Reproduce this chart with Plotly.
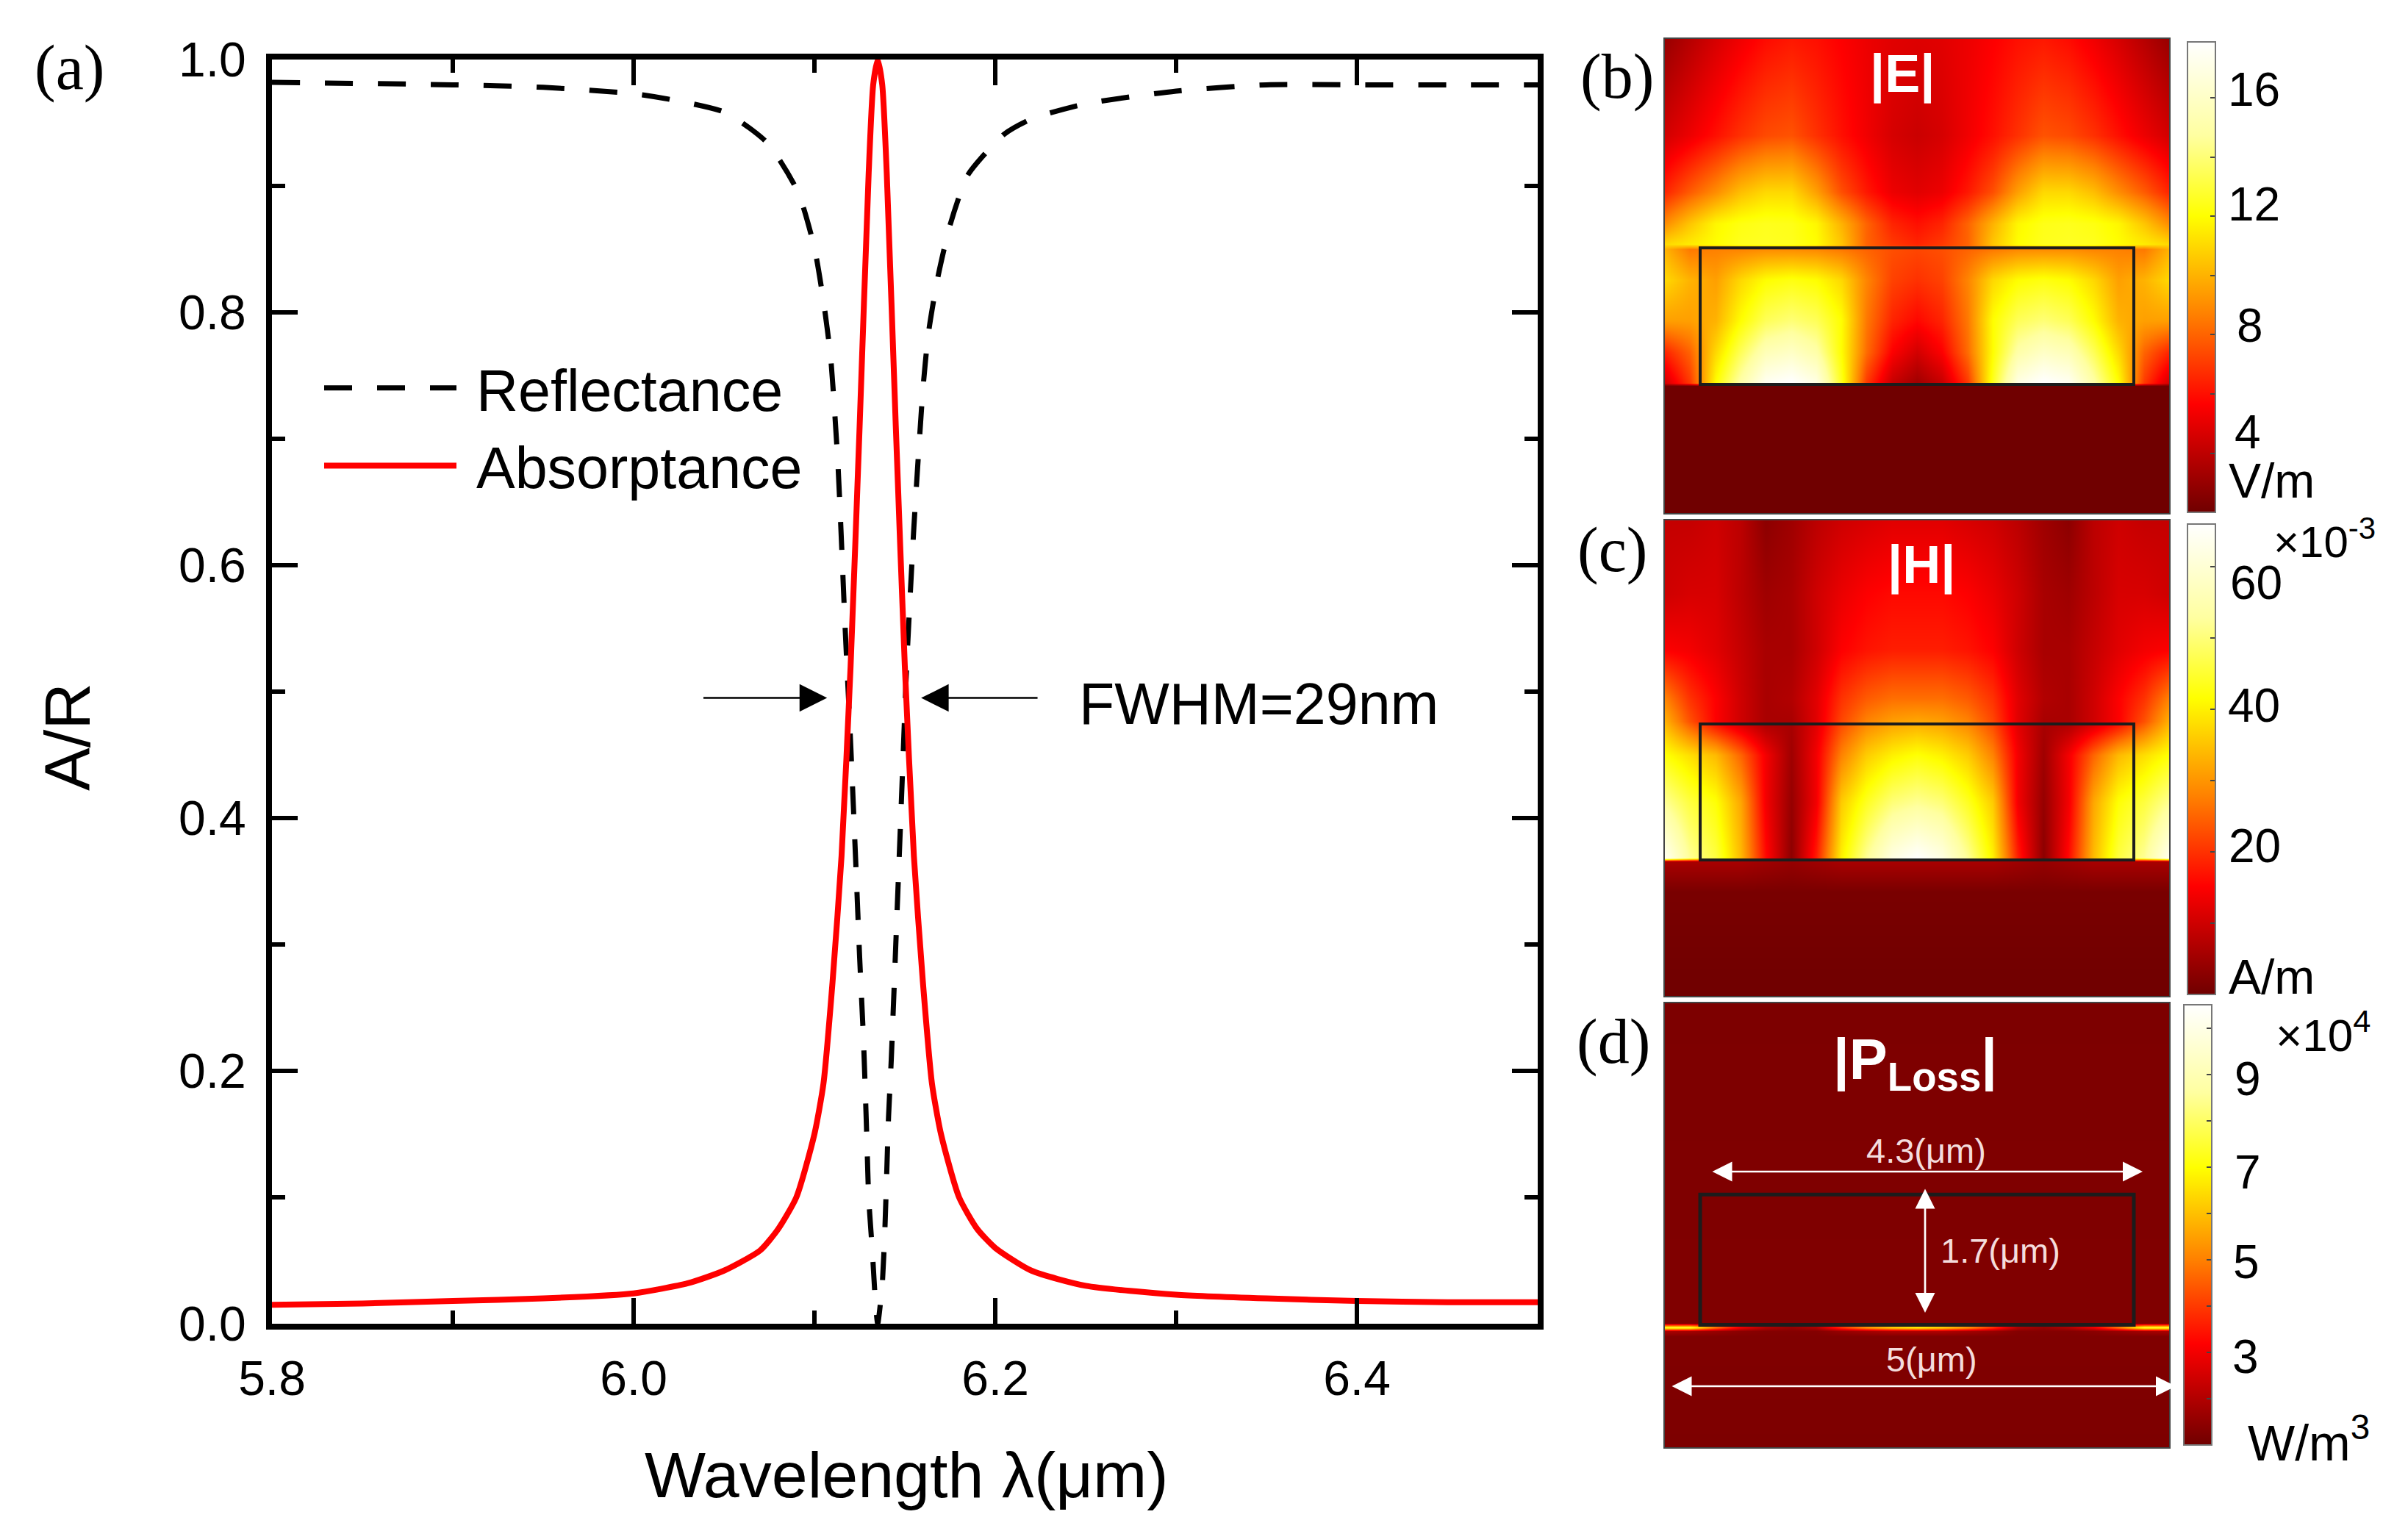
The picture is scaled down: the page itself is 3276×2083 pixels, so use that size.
"""Absorber spectrum with |E|, |H| and |P_loss| field maps"""

import plotly.graph_objects as go

W, H = 3276, 2083
FONT = "Liberation Sans"
SERIF = "Liberation Serif"

# spectrum
wl_refl = [5.80, 5.90, 5.95, 6.00, 6.022, 6.051, 6.074, 6.091, 6.10, 6.105, 6.109, 6.113,
           6.117, 6.12, 6.123, 6.125, 6.127, 6.128, 6.129, 6.13, 6.132, 6.134, 6.135,
           6.1375, 6.139, 6.14, 6.141, 6.1425, 6.145, 6.148, 6.151, 6.155, 6.16, 6.163,
           6.168, 6.175, 6.185, 6.205, 6.22, 6.25, 6.30, 6.35, 6.40, 6.45, 6.50]
reflectance = [0.982, 0.98, 0.978, 0.973, 0.968, 0.958, 0.934, 0.895, 0.851, 0.809, 0.764, 0.68,
               0.55, 0.46, 0.36, 0.29, 0.229, 0.19, 0.146, 0.10, 0.058, 0.012, 0.0,
               0.031, 0.076, 0.12, 0.164, 0.209, 0.30, 0.41, 0.52, 0.63, 0.739, 0.783,
               0.826, 0.869, 0.909, 0.941, 0.953, 0.965, 0.975, 0.98, 0.98, 0.98, 0.98]
wl_abs = [5.80, 5.85, 5.90, 5.95, 6.00, 6.03, 6.05, 6.07, 6.08, 6.09, 6.10, 6.105, 6.11, 6.115,
          6.12, 6.125, 6.13, 6.1325, 6.135, 6.1375, 6.14, 6.145, 6.15, 6.155, 6.16, 6.165, 6.17,
          6.18, 6.19, 6.20, 6.22, 6.25, 6.30, 6.35, 6.40, 6.45, 6.50]
absorptance = [0.015, 0.016, 0.018, 0.020, 0.024, 0.032, 0.042, 0.058, 0.075, 0.10, 0.15, 0.19, 0.27, 0.37,
               0.52, 0.71, 0.91, 0.98, 1.0, 0.98, 0.91, 0.71, 0.52, 0.37, 0.27, 0.19, 0.15,
               0.10, 0.075, 0.06, 0.042, 0.03, 0.023, 0.02, 0.018, 0.017, 0.017]

# field maps: left half of each row (0 to 2.5 um), the structure is symmetric
x_cols = [0, 0.25, 0.5, 0.75, 1, 1.25, 1.5, 1.75, 2, 2.25, 2.5,
          2.75, 3, 3.25, 3.5, 3.75, 4, 4.25, 4.5, 4.75, 5]

e_rows_y = [0, 1.585, 1.62, 2.0, 2.4, 2.9, 3.28, 3.35, 3.6, 4.0, 4.7, 5.9]
e_half = [
    [2, 2, 2, 2, 2, 2, 2, 2, 2, 2, 2],
    [2, 2, 2, 2, 2, 2, 2, 2, 2, 2, 2],
    [4.5, 7, 12, 15, 17.5, 18, 17, 12.5, 7, 4.2, 3.2],
    [6.5, 8, 11, 13.5, 15.5, 16, 15, 12, 8.2, 5.6, 4.5],
    [9.5, 9.5, 10, 12, 13.5, 14, 13.5, 12, 8.5, 6.5, 5.8],
    [11, 10, 9.5, 11, 12, 12.3, 12, 11, 8.8, 7.2, 6.8],
    [10, 8.5, 8.7, 8.8, 9, 9, 8.9, 8.5, 8, 7.5, 7.3],
    [11, 11.5, 12, 12.5, 12.6, 12.5, 12, 10.5, 8, 7, 6.5],
    [9, 10.5, 11.8, 12.3, 12.5, 12.4, 11.8, 10, 8, 6.5, 6],
    [6.5, 7.8, 9, 10.3, 11, 11, 9.5, 7.5, 6.2, 5.2, 4.9],
    [4.5, 5.2, 6, 6.8, 7.4, 7.6, 6.8, 6, 5.3, 4.6, 4.3],
    [3, 3.8, 4.6, 5.3, 5.9, 6.2, 6, 5.6, 5.2, 4.9, 4.8],
]

h_rows_y = [0, 1.3, 1.67, 1.72, 2.4, 3.0, 3.42, 3.7, 4.3, 5.0, 5.91]
h_half = [
    [0, 0, 0, 0, 0, 0, 0, 0, 0, 0, 0],
    [1, 1, 1, 1, 1, 1, 1, 1, 1, 1, 1],
    [6, 6, 6, 6, 5, 4, 5, 6, 6, 6, 6],
    [64, 52, 46, 34, 16, 3, 18, 40, 52, 62, 66],
    [52, 46, 42, 32, 14, 4, 14, 36, 44, 50, 52],
    [42, 38, 34, 25, 14, 5, 14, 28, 36, 40, 42],
    [33, 23, 15, 10, 6, 6, 12, 22, 28, 31, 32],
    [28, 20, 15, 10, 6, 7, 12, 20, 24, 26, 26],
    [15, 14, 12, 9, 6, 6, 10, 15, 17, 18, 18],
    [10, 11, 11, 8, 5, 6, 10, 13, 15, 16, 16],
    [9, 9, 10, 8, 3, 5, 8, 10, 11, 12, 12],
]

p_rows_y = [0, 1.45, 1.52, 1.57, 1.62, 5.8]
p_half = [
    [1.2, 1.2, 1.2, 1.2, 1.2, 1.2, 1.2, 1.2, 1.2, 1.2, 1.2],
    [1.25, 1.25, 1.25, 1.25, 1.25, 1.25, 1.25, 1.25, 1.25, 1.25, 1.25],
    [1.9, 1.8, 1.6, 1.4, 1.3, 1.3, 1.3, 1.6, 1.8, 2.0, 2.0],
    [7.5, 7.5, 5, 3, 2, 1.6, 2, 4, 5.5, 6.5, 7],
    [1.25, 1.25, 1.25, 1.25, 1.25, 1.25, 1.25, 1.25, 1.25, 1.25, 1.25],
    [1.2, 1.2, 1.2, 1.2, 1.2, 1.2, 1.2, 1.2, 1.2, 1.2, 1.2],
]

e_ticks = [2, 4, 6, 8, 10, 12, 14, 16]
h_ticks = [10, 20, 30, 40, 50, 60]
p_ticks = [2, 3, 4, 5, 6, 7, 8, 9, 10]

# colour bar numbers, set by hand beside the bars in the original
e_labels = ["16", "12", "8", "4"]
h_labels = ["60", "40", "20"]
p_labels = ["9", "7", "5", "3"]

THERMAL = [[0, "#700000"], [0.23, "#ff0000"], [0.42, "#ff8000"],
           [0.63, "#ffff00"], [0.8, "#ffffa0"], [1, "#ffffff"]]


def fx(px):
    return px / W


def fy(py):
    return 1 - py / H


def mirror(rows):
    return [r + r[-2::-1] for r in rows]


def text(px, py, s, size, color="black", family=FONT, **kw):
    return dict(x=fx(px), y=fy(py), xref="paper", yref="paper", text=s, showarrow=False,
                font=dict(family=family, size=size, color=color),
                xanchor="center", yanchor="middle", **kw)


fig = go.Figure()

fig.add_trace(go.Scatter(x=wl_refl, y=reflectance, mode="lines", name="\u00a0Reflectance",
                         line=dict(color="black", width=7, dash="38px,34px", shape="spline", smoothing=0.6)))
fig.add_trace(go.Scatter(x=wl_abs, y=absorptance, mode="lines", name="\u00a0Absorptance",
                         line=dict(color="#ff0000", width=8, shape="spline", smoothing=0.6)))

panels = [
    ("2", x_cols, e_rows_y, e_half, 2, 17.9, e_ticks, (2265, 2951, 53, 698), (57, 697), 2976),
    ("3", x_cols, h_rows_y, h_half, 0, 66, h_ticks, (2265, 2951, 708, 1355), (713, 1353), 2976),
    ("4", x_cols, p_rows_y, p_half, 1, 10.5, p_ticks, (2265, 2951, 1365, 1969), (1367, 1966), 2971),
]

for n, xs, ys, half, zmin, zmax, ticks, box, cb_y, cb_x in panels:
    fig.add_trace(go.Heatmap(
        x=xs, y=ys, z=mirror(half), xaxis="x" + n, yaxis="y" + n, zsmooth="best",
        colorscale=THERMAL, zmin=zmin, zmax=zmax,
        colorbar=dict(
            x=fx(cb_x), xanchor="left", xpad=0, ypad=0,
            y=fy(cb_y[1]), yanchor="bottom", len=(cb_y[1] - cb_y[0]) / H, lenmode="fraction",
            thickness=38, thicknessmode="pixels",
            tickmode="array", tickvals=ticks, showticklabels=False,
            ticks="inside", ticklen=8, tickwidth=2, tickcolor="#444",
            outlinecolor="#777", outlinewidth=2,
        ),
    ))
    fig.update_layout({
        "xaxis" + n: dict(domain=[fx(box[0]), fx(box[1])], range=[0, 5], anchor="y" + n,
                          showgrid=False, zeroline=False, showticklabels=False, ticks="",
                          showline=True, mirror=True, linecolor="#444", linewidth=2),
        "yaxis" + n: dict(domain=[fy(box[3]), fy(box[2])], range=[ys[0], ys[-1]], anchor="x" + n,
                          showgrid=False, zeroline=False, showticklabels=False, ticks="",
                          showline=True, mirror=True, linecolor="#444", linewidth=2),
    })

# the resonator outline in each map
for n, y0, y1, lw in [("2", 1.6, 3.3, 4), ("3", 1.69, 3.38, 4), ("4", 1.6, 3.3, 5)]:
    fig.add_shape(type="rect", xref="x" + n, yref="y" + n, x0=0.35, x1=4.65, y0=y0, y1=y1,
                  line=dict(color="#1c1c1c", width=lw))

annotations = [
    text(94, 92, "(a)", 86, family=SERIF),
    text(2200, 104, "(b)", 86, family=SERIF),
    text(2193, 748, "(c)", 86, family=SERIF),
    text(2195, 1417, "(d)", 86, family=SERIF),
    text(1233, 2006, "Wavelength λ(μm)", 88),
    text(92, 1003, "A/R", 88, textangle=-90),
    text(1712, 958, "FWHM=29nm", 79),
    text(2588, 100, "<b>|E|</b>", 72, color="white"),
    text(2614, 768, "<b>|H|</b>", 72, color="white"),
    text(2605, 1446, "<b>|P<sub>Loss</sub>|</b>", 78, color="white"),
    text(3090, 654, "V/m", 66),
    text(3090, 1329, "A/m", 66),
    text(3141, 1958, "W/m<sup>3</sup>", 68),
    text(3162, 733, "×10<sup>-3</sup>", 60),
    text(3160, 1404, "×10<sup>4</sup>", 62),
    text(2620, 1565, "4.3(μm)", 47, color="#f4dcdc"),
    text(2721, 1701, "1.7(μm)", 47, color="#f4dcdc"),
    text(2628, 1849, "5(μm)", 47, color="#f4dcdc"),
]

for label, lx, ly in zip(e_labels, [3066, 3066, 3061, 3058], [122, 278, 443, 588]):
    annotations.append(text(lx, ly, label, 64))
for label, lx, ly in zip(h_labels, [3069, 3066, 3067], [793, 960, 1151]):
    annotations.append(text(lx, ly, label, 64))
for label, lx, ly in zip(p_labels, [3058, 3058, 3056, 3055], [1468, 1595, 1717, 1846]):
    annotations.append(text(lx, ly, label, 64))

# FWHM pointers, in data units
for tail, head in [(6.038, 6.107), (6.224, 6.159)]:
    annotations.append(dict(x=head, y=0.495, ax=tail, ay=0.495, xref="x", yref="y", axref="x", ayref="y",
                            text="", showarrow=True, arrowhead=2, arrowsize=3, arrowwidth=2.5,
                            arrowcolor="black"))

# dimension arrows in panel (d), tail given as pixel offset
for x0, y0, x1, y1 in [(2328, 1594, 2915, 1594), (2619, 1616, 2619, 1786), (2273, 1886, 2960, 1886)]:
    annotations.append(dict(x=fx(x1), y=fy(y1), xref="paper", yref="paper", ax=x0 - x1, ay=y0 - y1,
                            text="", showarrow=True, arrowhead=2, arrowside="end+start",
                            arrowsize=2, arrowwidth=2.7, arrowcolor="white"))

fig.update_layout(
    width=W, height=H,
    margin=dict(l=0, r=0, t=0, b=0, autoexpand=False),
    paper_bgcolor="white", plot_bgcolor="white",
    font=dict(family=FONT, color="black"),
    xaxis=dict(domain=[fx(370), fx(2092)], range=[5.8, 6.5], anchor="y",
               tickmode="array", tickvals=[5.8, 6.0, 6.2, 6.4], ticktext=["5.8", "6.0", "6.2", "6.4"],
               ticks="inside", ticklen=35, tickwidth=6, tickcolor="black",
               minor=dict(ticks="inside", dtick=0.1, ticklen=18, tickwidth=6, tickcolor="black"),
               showgrid=False, zeroline=False, showline=True, mirror="ticks", ticklabelstandoff=10,
               linecolor="black", linewidth=8, tickfont=dict(family=FONT, size=66)),
    yaxis=dict(domain=[fy(1801), fy(81)], range=[0, 1], anchor="x",
               tickmode="array", tickvals=[0, 0.2, 0.4, 0.6, 0.8, 1.0],
               ticktext=["0.0", "0.2", "0.4", "0.6", "0.8", "1.0"],
               ticks="inside", ticklen=35, tickwidth=6, tickcolor="black",
               minor=dict(ticks="inside", dtick=0.1, ticklen=18, tickwidth=6, tickcolor="black"),
               showgrid=False, zeroline=False, showline=True, mirror="ticks", ticklabelstandoff=14,
               linecolor="black", linewidth=8, tickfont=dict(family=FONT, size=66)),
    legend=dict(x=fx(436), y=fy(470), xanchor="left", yanchor="top", bgcolor="rgba(0,0,0,0)",
                font=dict(family=FONT, size=79), itemwidth=180, borderwidth=0),
    showlegend=True,
    annotations=annotations,
)
fig.update_traces(showlegend=False, selector=dict(type="heatmap"))

fig.write_html("out.html", config={"displayModeBar": False},
               post_script="document.body.style.margin='0';")
